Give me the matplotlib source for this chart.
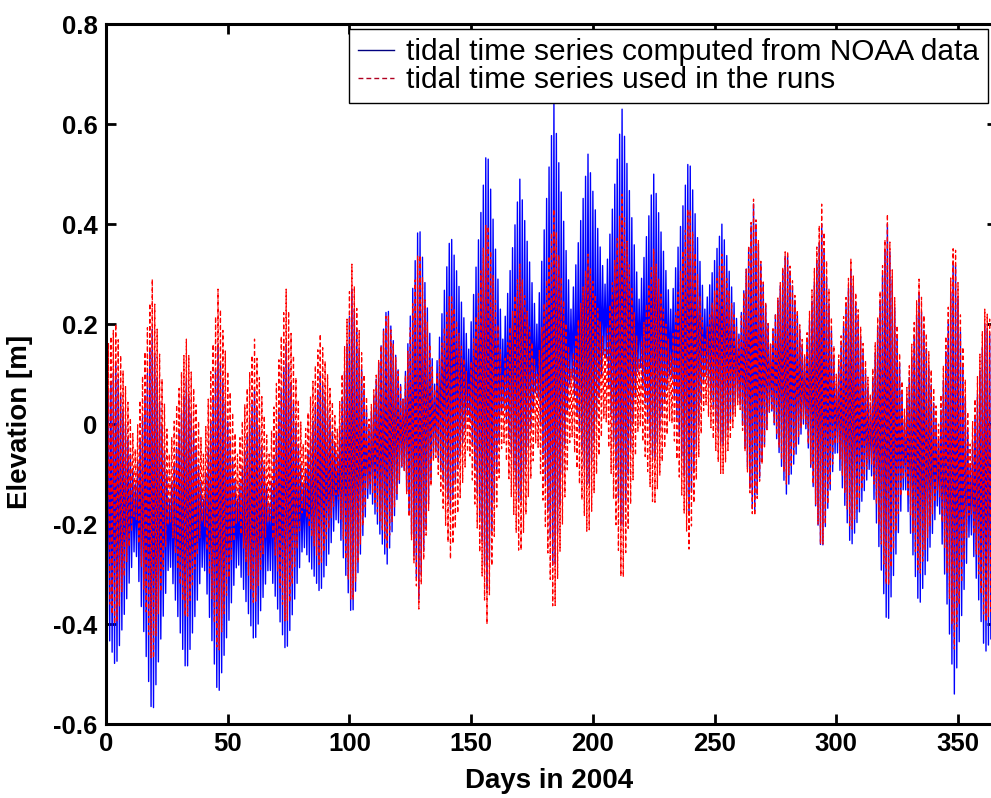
import matplotlib
matplotlib.use("Agg")
import matplotlib.pyplot as plt
import numpy as np

plt.rcParams['font.family'] = ['Liberation Sans', 'DejaVu Sans']
plt.rcParams['axes.unicode_minus'] = False

# envelope: spring tides (max / min) and neap tides (centre level)
spring_days = [4, 19, 33, 46, 61, 74, 88, 101, 115.5, 128.5, 141.5, 156.5, 170, 184,
               198, 212, 225, 239.5, 253, 266, 279.5, 294, 306, 321, 334, 348.5, 361]
noaa_hi = [0.12, 0.19, 0.09, 0.16, 0.07, 0.16, 0.10, 0.27, 0.24, 0.41, 0.385, 0.56, 0.49, 0.64,
           0.54, 0.63, 0.50, 0.54, 0.40, 0.44, 0.35, 0.40, 0.31, 0.40, 0.26, 0.35, 0.20]
noaa_lo = [-0.49, -0.59, -0.50, -0.55, -0.44, -0.46, -0.34, -0.39, -0.28, -0.35, -0.17, -0.33, -0.17, -0.31,
           -0.14, -0.23, -0.08, -0.18, -0.05, -0.19, -0.14, -0.26, -0.25, -0.41, -0.37, -0.54, -0.46]
runs_hi = [0.20, 0.29, 0.17, 0.27, 0.17, 0.27, 0.18, 0.32, 0.23, 0.36, 0.27, 0.42, 0.32, 0.43,
           0.34, 0.46, 0.35, 0.45, 0.34, 0.45, 0.36, 0.44, 0.33, 0.42, 0.29, 0.38, 0.23]
runs_lo = [-0.41, -0.49, -0.40, -0.47, -0.37, -0.41, -0.29, -0.37, -0.25, -0.37, -0.27, -0.40, -0.27, -0.39,
           -0.23, -0.33, -0.17, -0.25, -0.11, -0.20, -0.12, -0.26, -0.22, -0.34, -0.31, -0.45, -0.40]

neap_days = [12, 26, 40, 54, 67, 81, 95, 108, 122, 135, 149, 163, 177, 191, 205, 219, 232,
             246, 260, 273, 287, 300, 314, 328, 342, 355]
noaa_mid = [-0.18, -0.21, -0.21, -0.21, -0.22, -0.18, -0.12, -0.07, -0.01, 0.02, 0.09, 0.11, 0.14,
            0.17, 0.22, 0.19, 0.17, 0.17, 0.12, 0.10, 0.07, 0.02, -0.02, -0.05, -0.09, -0.14]
runs_mid = [-0.11, -0.12, -0.12, -0.12, -0.12, -0.10, -0.07, -0.05, -0.01, 0.01, 0.02, 0.04, 0.04,
            0.05, 0.09, 0.07, 0.08, 0.11, 0.11, 0.10, 0.08, 0.04, 0.00, -0.03, -0.06, -0.10]
neap_half = 0.06

# ends of the record
end_days = [0, 366]
noaa_end_hi = [0.05, 0.15]
noaa_end_lo = [-0.40, -0.40]
runs_end_hi = [0.15, 0.18]
runs_end_lo = [-0.33, -0.35]

x_ticks = [0, 50, 100, 150, 200, 250, 300, 350]
y_ticks = [-0.6, -0.4, -0.2, 0, 0.2, 0.4, 0.6, 0.8]
y_labels = ['-0.6', '-0.4', '-0.2', '0', '0.2', '0.4', '0.6', '0.8']


def envelope(hi, lo, mid, end_hi, end_lo):
    days = np.array(spring_days + neap_days + end_days, dtype=float)
    up = np.array(hi + [m + neap_half for m in mid] + end_hi)
    dn = np.array(lo + [m - neap_half for m in mid] + end_lo)
    order = np.argsort(days)
    return days[order], up[order], dn[order]


def tide_trace(hi, lo, mid, end_hi, end_lo, step=0.5):
    # alternate high and low water along the read envelope
    d, up, dn = envelope(hi, lo, mid, end_hi, end_lo)
    t = np.arange(0, 366, step)
    top = np.interp(t, d, up)
    bot = np.interp(t, d, dn)
    y = np.where(np.arange(len(t)) % 2 == 0, top, bot)
    return t, y


fig = plt.figure(figsize=(9.91, 7.98), dpi=100)
ax = fig.add_axes([0.107, 0.0927, 0.899, 0.877])

t1, y1 = tide_trace(noaa_hi, noaa_lo, noaa_mid, noaa_end_hi, noaa_end_lo)
t2, y2 = tide_trace(runs_hi, runs_lo, runs_mid, runs_end_hi, runs_end_lo)
ax.plot(t1, y1, color='#0000ff', lw=1.0, label='tidal time series computed from NOAA data')
ax.plot(t2, y2, color='#ff0000', lw=0.9, ls=(0, (3.5, 2.2)), label='tidal time series used in the runs')

ax.set_xlim(0, 366)
ax.set_ylim(-0.6, 0.8)
ax.set_xticks(x_ticks)
ax.set_yticks(y_ticks)
ax.set_yticklabels(y_labels)
ax.tick_params(direction='in', length=7, width=2, labelsize=18.5, top=True, right=True, pad=6)
for lab in ax.get_xticklabels() + ax.get_yticklabels():
    lab.set_fontweight('bold')
for sp in ax.spines.values():
    sp.set_linewidth(2.2)

ax.set_xlabel('Days in 2004', fontsize=20, fontweight='bold')
ax.set_ylabel('Elevation [m]', fontsize=20, fontweight='bold')
ax.xaxis.set_label_coords(0.497, -0.063)
ax.yaxis.set_label_coords(-0.082, 0.431)

leg = ax.legend(loc='upper right', bbox_to_anchor=(988 / 991, 1 - 29 / 798),
                bbox_transform=fig.transFigure, fontsize=21.5, fancybox=False,
                framealpha=1, edgecolor='black', borderaxespad=0, borderpad=0.3,
                labelspacing=0.0, handlelength=1.2, handletextpad=0.4)
leg.get_frame().set_linewidth(1.0)
for h in leg.get_lines():
    h.set_linewidth(1.0)
leg.get_lines()[0].set_color('#000080')
leg.get_lines()[1].set_color('#b00020')

fig.savefig('out.png', dpi=100)
